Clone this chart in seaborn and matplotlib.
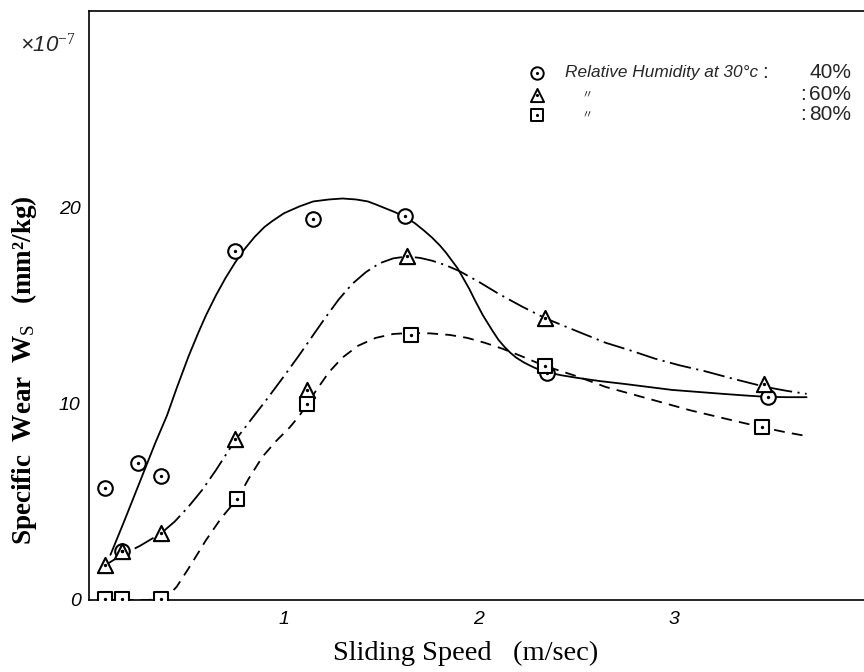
import matplotlib
matplotlib.use("Agg")
import matplotlib.pyplot as plt
import seaborn as sns
import numpy as np
import pandas as pd

# ---- measured points ----
x40 = [0.08, 0.17, 0.25, 0.37, 0.75, 1.15, 1.62, 2.35, 3.48]
y40 = [5.7, 2.5, 7.0, 6.3, 17.8, 19.4, 19.55, 11.55, 10.35]
x60 = [0.08, 0.17, 0.37, 0.75, 1.12, 1.63, 2.34, 3.46]
y60 = [1.8, 2.5, 3.4, 8.2, 10.7, 17.5, 14.35, 11.0]
x80 = [0.08, 0.17, 0.37, 0.76, 1.12, 1.65, 2.34, 3.45]
y80 = [0.05, 0.05, 0.05, 5.15, 10.0, 13.5, 11.9, 8.8]

# ---- hand-drawn curves ----
cx40 = [0.11, 0.18, 0.26, 0.34, 0.40, 0.45, 0.51, 0.56, 0.60, 0.65, 0.70, 0.75, 0.80,
        0.85, 0.90, 0.94, 1.00, 1.08, 1.15, 1.23, 1.30, 1.37, 1.43, 1.47, 1.52, 1.57,
        1.62, 1.67, 1.72, 1.76, 1.80, 1.83, 1.86, 1.89, 1.91, 1.95, 1.98, 2.02, 2.07,
        2.10, 2.13, 2.16, 2.19, 2.23, 2.27, 2.31, 2.35, 2.42, 2.50, 2.62, 2.75, 2.87,
        2.99, 3.12, 3.25, 3.36, 3.47, 3.58, 3.68]
cy40 = [2.3, 4.0, 6.0, 8.0, 9.4, 10.8, 12.4, 13.6, 14.5, 15.5, 16.4, 17.2, 17.9,
        18.5, 19.0, 19.3, 19.7, 20.05, 20.3, 20.4, 20.45, 20.4, 20.3, 20.15, 19.95, 19.75,
        19.5, 19.2, 18.8, 18.45, 18.05, 17.7, 17.3, 16.9, 16.55, 15.85, 15.25, 14.5, 13.7,
        13.25, 12.9, 12.6, 12.35, 12.1, 11.9, 11.72, 11.6, 11.45, 11.32, 11.15, 11.0, 10.85,
        10.7, 10.6, 10.5, 10.42, 10.35, 10.33, 10.33]

cx60 = [0.08, 0.12, 0.17, 0.26, 0.37, 0.44, 0.51, 0.58, 0.65, 0.75, 0.84, 0.91, 1.00,
        1.08, 1.15, 1.21, 1.28, 1.35, 1.42, 1.49, 1.56, 1.63, 1.70, 1.76, 1.83, 1.90,
        2.00, 2.10, 2.22, 2.34, 2.50, 2.65, 2.78, 2.90, 3.03, 3.16, 3.31, 3.47, 3.58, 3.68]
cy60 = [1.75, 2.0, 2.3, 2.75, 3.4, 4.0, 4.75, 5.6, 6.6, 8.14, 9.3, 10.2, 11.4,
        12.5, 13.5, 14.35, 15.3, 16.1, 16.7, 17.15, 17.4, 17.5, 17.42, 17.28, 17.05, 16.75,
        16.2, 15.6, 14.95, 14.35, 13.7, 13.1, 12.7, 12.3, 11.95, 11.65, 11.25, 10.85, 10.65, 10.5]

cx80 = [0.08, 0.17, 0.30, 0.37, 0.41, 0.45, 0.51, 0.56, 0.60, 0.68, 0.76, 0.82, 0.89,
        0.96, 1.03, 1.08, 1.12, 1.16, 1.23, 1.30, 1.38, 1.47, 1.56, 1.65, 1.75, 1.85,
        1.94, 2.03, 2.12, 2.21, 2.33, 2.50, 2.65, 2.87, 3.08, 3.27, 3.45, 3.57, 3.68]
cy80 = [0.0, 0.0, 0.0, 0.05, 0.25, 0.68, 1.6, 2.4, 3.05, 4.2, 5.14, 6.2, 7.3,
        8.1, 8.8, 9.4, 10.0, 10.6, 11.6, 12.35, 12.95, 13.35, 13.55, 13.6, 13.58, 13.5,
        13.35, 13.1, 12.8, 12.45, 11.95, 11.4, 10.85, 10.25, 9.67, 9.22, 8.8, 8.55, 8.35]

x_major = [0.5, 1.0, 1.5, 2.0, 2.5, 3.0, 3.5]
x_labels = ["", "1", "", "2", "", "3", ""]
y_major = [0, 10, 20]
y_minor = [5, 15, 25]
legend_title = "Relative Humidity at 30°c"
legend_pcts = ["40%", "60%", "80%"]

sns.set_theme(style="white")
plt.rcParams["mathtext.fontset"] = "custom"
plt.rcParams["mathtext.rm"] = "Liberation Serif"
plt.rcParams["mathtext.it"] = "Liberation Serif:italic"
plt.rcParams["mathtext.bf"] = "Liberation Serif:bold"

fig = plt.figure(figsize=(8.64, 6.72), dpi=100)
ax = fig.add_axes([89/864, 1 - 600/672, 1 - 89/864, (600 - 11)/672])

lw = 1.3
sns.lineplot(x=cx40, y=cy40, ax=ax, color="black", lw=lw, estimator=None, sort=False)
sns.lineplot(x=cx60, y=cy60, ax=ax, color="black", lw=lw, estimator=None, sort=False)
ax.lines[-1].set_dashes([12, 3, 1.2, 3])
sns.lineplot(x=cx80, y=cy80, ax=ax, color="black", lw=lw, estimator=None, sort=False)
ax.lines[-1].set_dashes([6, 4])

mk = dict(facecolor="white", edgecolor="black", linewidth=1.5, zorder=5)
sns.scatterplot(x=x40, y=y40, ax=ax, marker="o", s=110, **mk)
sns.scatterplot(x=x60, y=y60, ax=ax, marker="^", s=120, **mk)
sns.scatterplot(x=x80, y=y80, ax=ax, marker="s", s=110, **mk)
for xs, ys in [(x40, y40), (x60, y60), (x80, y80)]:
    ax.scatter(xs, ys, s=2, color="black", zorder=6)

ax.set_xlim(0, (864 - 89) / 195)
ax.set_ylim(0, 30)
ax.set_xticks(x_major)
ax.set_xticklabels(x_labels, fontstyle="italic", family="Liberation Sans", fontsize=14)
ax.set_yticks(y_major)
ax.set_yticks(y_minor, minor=True)
ax.set_yticklabels([str(v) for v in y_major], fontstyle="italic", family="Liberation Sans", fontsize=14)
ax.tick_params(axis="y", which="both", direction="in", length=7, width=1.1, color="black", pad=6)
ax.tick_params(axis="x", which="both", direction="in", length=4, width=1.1, color="black", pad=8)
ax.tick_params(axis="both", labelcolor="black")

for s in ["left", "bottom", "top"]:
    ax.spines[s].set_color("black")
    ax.spines[s].set_linewidth(1.2)
ax.spines["right"].set_visible(False)

ax.set_xlabel("Sliding Speed   (m/sec)", family="Liberation Serif", fontsize=20.5,
              color="black")
ax.xaxis.set_label_coords((466 - 89) / 775, -(641 - 600) / 589)
ax.set_ylabel(r"Specific  Wear  W$_{\rm S}$   (mm²/kg)", family="Liberation Serif",
              fontsize=19.5, fontweight="bold", color="black")
ax.yaxis.set_label_coords(-(89 - 39) / 775, (600 - 370) / 589)

fig.text(20/864, 1 - 45/672, r"×10$^{-7}$", fontstyle="italic", family="Liberation Sans",
         fontsize=16, va="center", ha="left")

# legend
lx = (537 - 89) / 775
rows = [(600 - 73) / 589, (600 - 95) / 589, (600 - 115) / 589]
for m, yy, sz in zip(["o", "^", "s"], rows, [80, 90, 80]):
    ax.scatter([lx], [yy], transform=ax.transAxes, marker=m, s=sz, facecolor="white",
               edgecolor="black", linewidth=1.4, zorder=7, clip_on=False)
    ax.scatter([lx], [yy], transform=ax.transAxes, s=1.5, color="black", zorder=8)
ax.text((565 - 89) / 775, rows[0], legend_title, transform=ax.transAxes,
        fontsize=12.4, family="Liberation Sans", fontstyle="italic", va="center", ha="left")
colon_x = [765, 803, 803]
for lab, yy, cx in zip(legend_pcts, rows, colon_x):
    ax.text((cx - 89) / 775, yy, ":", transform=ax.transAxes, fontsize=15,
            family="Liberation Sans", va="center", ha="center")
    ax.text((851 - 89) / 775, yy, lab, transform=ax.transAxes, fontsize=15,
            family="Liberation Sans", va="center", ha="right")
for yy in rows[1:]:
    ax.text((587 - 89) / 775, yy, "〃", transform=ax.transAxes, fontsize=8,
            family=["Noto Sans CJK JP", "DejaVu Sans"], va="center", ha="center")

fig.savefig("out.png", dpi=100)
